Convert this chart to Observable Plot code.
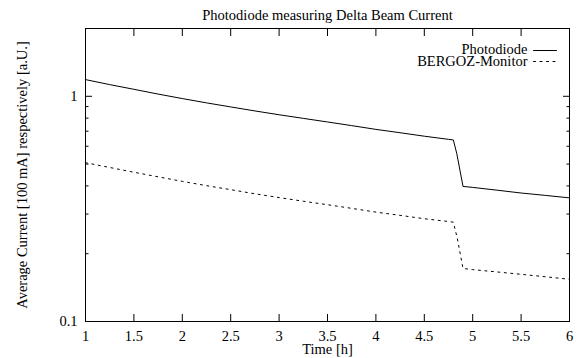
<!DOCTYPE html>
<html>
<head>
<meta charset="utf-8">
<script src="https://cdn.jsdelivr.net/npm/d3@7"></script>
<script src="https://cdn.jsdelivr.net/npm/@observablehq/plot@0.6"></script>
<style>
  html, body { margin: 0; padding: 0; background: #fff; }
  #chart svg { display: block; }
</style>
</head>
<body>
<div id="chart"></div>
<script>
// Time [h]
const timePhoto = [1, 1.25, 1.5, 1.75, 2, 2.25, 2.5, 2.75, 3, 3.25, 3.5, 3.75, 4, 4.25, 4.5, 4.75, 4.8, 4.835, 4.9, 5, 5.25, 5.5, 5.75, 6];
// Photodiode signal [a.U.]
const photodiode = [1.186, 1.127, 1.074, 1.023, 0.977, 0.935, 0.897, 0.861, 0.828, 0.798, 0.769, 0.741, 0.713, 0.689, 0.665, 0.644, 0.640, 0.558, 0.398, 0.394, 0.383, 0.372, 0.363, 0.354];
const timeBergoz = [1, 1.25, 1.5, 1.75, 2, 2.25, 2.5, 2.75, 3, 3.25, 3.5, 3.75, 4, 4.25, 4.5, 4.75, 4.8, 4.84, 4.9, 5, 5.25, 5.5, 5.75, 6];
// BERGOZ-Monitor average current [100 mA]
const bergoz = [0.507, 0.483, 0.460, 0.439, 0.419, 0.401, 0.385, 0.369, 0.355, 0.342, 0.330, 0.318, 0.306, 0.296, 0.286, 0.278, 0.276, 0.235, 0.172, 0.170, 0.166, 0.162, 0.158, 0.154];

const xTicks = [1, 1.5, 2, 2.5, 3, 3.5, 4, 4.5, 5, 5.5, 6];
const yMajorTicks = [0.1, 1];
const yMinorTicks = [0.2, 0.3, 0.4, 0.5, 0.6, 0.7, 0.8, 0.9, 2];

const titleText = "Photodiode measuring Delta Beam Current";
const xLabel = "Time [h]";
const yLabel = "Average Current [100 mA] respectively [a.U.]";
const seriesNames = ["Photodiode", "BERGOZ-Monitor"];

const photoData = timePhoto.map((t, i) => ({t, v: photodiode[i]}));
const bergozData = timeBergoz.map((t, i) => ({t, v: bergoz[i]}));

const lineShape = { draw(context, l) { context.moveTo(0, 0); context.lineTo(0, -l); } };

const chart = Plot.plot({
  width: 579,
  height: 358,
  marginTop: 28,
  marginBottom: 37,
  marginLeft: 85,
  marginRight: 10,
  style: { fontFamily: "'Liberation Serif', 'Times New Roman', serif", fontSize: "14.5px", color: "black", background: "white" },
  x: { type: "linear", domain: [1, 6] },
  y: { type: "log", domain: [0.1, 2] },
  marks: [
    // ticks (inward, mirrored)
    Plot.axisX(xTicks, { anchor: "bottom", tickSize: -7, tickFormat: () => "", label: null }),
    Plot.axisX(xTicks, { anchor: "top", tickSize: -7, tickFormat: () => "", label: null }),
    Plot.axisY(yMajorTicks, { anchor: "left", tickSize: -7, tickFormat: () => "", label: null }),
    Plot.axisY(yMajorTicks, { anchor: "right", tickSize: -7, tickFormat: () => "", label: null }),
    Plot.axisY(yMinorTicks, { anchor: "left", tickSize: -3.5, tickFormat: () => "", label: null }),
    Plot.axisY(yMinorTicks, { anchor: "right", tickSize: -3.5, tickFormat: () => "", label: null }),
    // tick labels
    Plot.axisX(xTicks, { anchor: "bottom", tickSize: 0, tickPadding: 9, tickFormat: d => String(d), label: null }),
    Plot.axisY(yMajorTicks, { anchor: "left", tickSize: 0, tickPadding: 8, tickFormat: d => String(d), label: null }),
    // data
    Plot.line(photoData, { x: "t", y: "v", stroke: "black", strokeWidth: 1 }),
    Plot.line(bergozData, { x: "t", y: "v", stroke: "black", strokeWidth: 1, strokeDasharray: "2,4.5" }),
    // frame
    Plot.frame({ stroke: "black", strokeWidth: 1 }),
    // titles
    Plot.text([titleText], { frameAnchor: "top", dy: -13, lineAnchor: "middle", text: d => d, fill: "black" }),
    Plot.text([xLabel], { frameAnchor: "bottom", dy: 28, lineAnchor: "middle", text: d => d, fill: "black" }),
    Plot.text([yLabel], { frameAnchor: "left", dx: -63, rotate: -90, textAnchor: "middle", lineAnchor: "middle", text: d => d, fill: "black" }),
    // legend
    Plot.text([seriesNames[0]], { frameAnchor: "top-right", dx: -42, dy: 20.5, textAnchor: "end", lineAnchor: "middle", text: d => d, fill: "black" }),
    Plot.text([seriesNames[1]], { frameAnchor: "top-right", dx: -42, dy: 32.5, textAnchor: "end", lineAnchor: "middle", text: d => d, fill: "black" }),
    Plot.vector([seriesNames[0]], { frameAnchor: "top-right", dx: -36, dy: 22, length: 23, rotate: 90, anchor: "start", shape: lineShape, stroke: "black", strokeWidth: 1 }),
    Plot.vector([seriesNames[1]], { frameAnchor: "top-right", dx: -36, dy: 33, length: 23, rotate: 90, anchor: "start", shape: lineShape, stroke: "black", strokeWidth: 1, strokeDasharray: "2,4.5" })
  ]
});
document.getElementById("chart").appendChild(chart);
</script>
</body>
</html>
